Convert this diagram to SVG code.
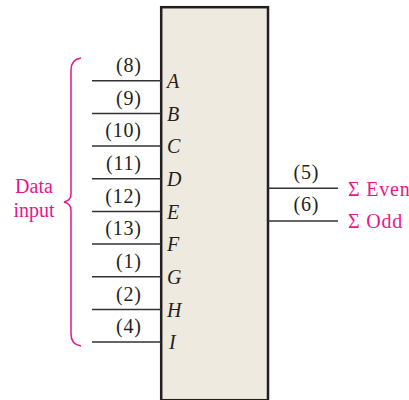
<svg xmlns="http://www.w3.org/2000/svg" width="409" height="400" viewBox="0 0 409 400">
<style>
.t{font-family:"Liberation Serif","Times New Roman",serif;font-size:20px;fill:#231f20}
.p{letter-spacing:0.8px}
.i{font-style:italic}
.m{fill:#e8168c}
.w{stroke:#333;stroke-width:1.5;fill:none}
</style>
<rect width="409" height="400" fill="#fff"/>
<g id="chip">
<rect x="161.2" y="7.2" width="106.8" height="393" fill="#eeeae0" stroke="#231f20" stroke-width="2.5"/>
<text class="t i" x="167" y="88">A</text>
<text class="t i" x="167" y="120.7">B</text>
<text class="t i" x="167" y="153.4">C</text>
<text class="t i" x="167" y="186">D</text>
<text class="t i" x="167" y="218.7">E</text>
<text class="t i" x="167" y="251.4">F</text>
<text class="t i" x="167" y="284">G</text>
<text class="t i" x="167" y="316.7">H</text>
<text class="t i" x="169" y="349.4">I</text>
</g>
<g id="connectors">
<path class="w" d="M92,80.7H161M92,113.4H161M92,146H161M92,178.7H161M92,211.4H161M92,244H161M92,276.7H161M92,309.4H161M92,342H161"/>
<path class="w" d="M268,188.3H338M268,221H338"/>
</g>
<g id="pins">
<text class="t p" x="141.8" y="72" text-anchor="end">(8)</text>
<text class="t p" x="141.8" y="104.7" text-anchor="end">(9)</text>
<text class="t p" x="141.8" y="137.3" text-anchor="end">(10)</text>
<text class="t p" x="141.8" y="170" text-anchor="end">(11)</text>
<text class="t p" x="141.8" y="202.7" text-anchor="end">(12)</text>
<text class="t p" x="141.8" y="235.3" text-anchor="end">(13)</text>
<text class="t p" x="141.8" y="268" text-anchor="end">(1)</text>
<text class="t p" x="141.8" y="300.7" text-anchor="end">(2)</text>
<text class="t p" x="141.8" y="333.3" text-anchor="end">(4)</text>
<text class="t p" x="306.4" y="178.5" text-anchor="middle">(5)</text>
<text class="t p" x="306.4" y="211.2" text-anchor="middle">(6)</text>
</g>
<g id="outputs">
<text class="t m p" x="348" y="195.7">Σ Even</text>
<text class="t m p" x="348" y="228.4">Σ Odd</text>
</g>
<g id="data-input">
<path d="M81,58C74,59 71,63 71,70L71,194C71,199 68,201 64,202C68,203 71,205 71,210L71,334C71,341 74,345 81,346" fill="none" stroke="#e8168c" stroke-width="1.5"/>
<text class="t m" x="34" y="193" text-anchor="middle">Data</text>
<text class="t m" x="34" y="217" text-anchor="middle">input</text>
</g>
</svg>
